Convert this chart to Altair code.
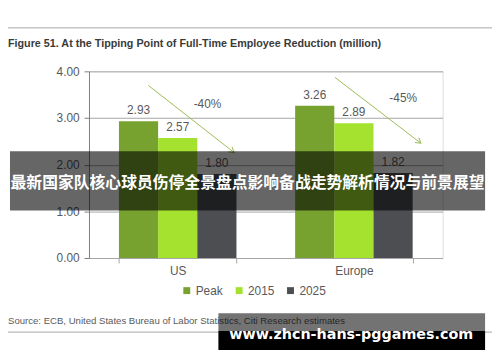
import altair as alt
import pandas as pd

# ---------------- data ----------------
regions = ["US", "Europe"]
series = ["Peak", "2015", "2025"]
us_values = [2.93, 2.57, 1.80]
europe_values = [3.26, 2.89, 1.82]
changes = ["-40%", "-45%"]
series_colors = ["#78a22f", "#a4e22f", "#4d4e52"]
y_ticks = [0, 1, 2, 3, 4]

title_text = "Figure 51. At the Tipping Point of Full-Time Employee Reduction (million)"
source_text = "Source: ECB, United States Bureau of Labor Statistics, Citi Research estimates"
banner_text = "最新国家队核心球员伤停全景盘点影响备战走势解析情况与前景展望"
watermark_text = "www.zhcn-hans-pggames.com"

# annotation arrows: x in category units (0..2 across the plot), y in millions
arrow_x_start = [0.335, 1.391]
arrow_x_end = [0.821, 1.877]
arrow_y_start = [3.70, 3.87]
arrow_y_end = [2.26, 2.46]
change_x = [0.670, 1.777]
change_y = [3.30, 3.43]

# ---------------- tables ----------------
rows = []
for region, vals in zip(regions, [us_values, europe_values]):
    for s, v in zip(series, vals):
        rows.append({"region": region, "series": s, "value": v})
bars_df = pd.DataFrame(rows)

arrows_df = pd.DataFrame({
    "xs": arrow_x_start, "xe": arrow_x_end,
    "ys": arrow_y_start, "ye": arrow_y_end,
    "label": changes, "lx": change_x, "ly": change_y,
})

FONT = "Liberation Sans"
TXT = "#595959"

yscale = alt.Scale(domain=[0, 4], nice=False, zero=True)
yaxis = alt.Axis(values=y_ticks, format=".2f", labelFontSize=12, labelColor=TXT,
                 labelFont=FONT, tickColor="#808080", tickSize=5, domainColor="#808080",
                 gridColor="#a6a6a6", labelPadding=5, zindex=0)
xband = alt.X(
    "region:N", sort=regions, title=None,
    scale=alt.Scale(paddingInner=0.333, paddingOuter=0.17),
    axis=alt.Axis(labelFontSize=12, labelColor=TXT, labelFont=FONT, labelAngle=0,
                  domainColor="#a6a6a6", tickColor="#a6a6a6", tickSize=5,
                  tickBand="extent", labelPadding=3, zindex=0),
)
xoff = alt.XOffset("series:N", sort=series)
yval = alt.Y("value:Q", scale=yscale, title=None, axis=yaxis)

bars = alt.Chart(bars_df).mark_bar().encode(
    x=xband, xOffset=xoff, y=yval,
    color=alt.Color(
        "series:N", sort=series,
        scale=alt.Scale(domain=series, range=series_colors),
        legend=alt.Legend(orient="none", legendX=93, legendY=216, direction="horizontal",
                          title=None, symbolType="square", symbolSize=49,
                          symbolStrokeWidth=0, labelFontSize=12, labelColor=TXT,
                          labelFont=FONT, labelOffset=3, columnPadding=10, padding=0),
    ),
)
labels = alt.Chart(bars_df).mark_text(dy=-11, fontSize=12, font=FONT, color=TXT).encode(
    x=xband, xOffset=xoff, y=yval, text=alt.Text("value:Q", format=".2f"),
)
main = alt.layer(bars, labels)

xlin = alt.Scale(domain=[0, 2], nice=False, zero=False)
arrow_lines = alt.Chart(arrows_df).mark_rule(color="#9bbb59", strokeWidth=1).encode(
    x=alt.X("xs:Q", scale=xlin, axis=None), x2="xe:Q",
    y=alt.Y("ys:Q", scale=yscale, title=None, axis=yaxis), y2="ye:Q",
)
arrow_heads = alt.Chart(arrows_df).mark_point(
    shape="M-1,-0.6L0,0L-1,0.6", filled=False, size=110, angle=38,
    color="#9bbb59", strokeWidth=1, opacity=1,
).encode(
    x=alt.X("xe:Q", scale=xlin, axis=None),
    y=alt.Y("ye:Q", scale=yscale, title=None, axis=yaxis),
)
change_labels = alt.Chart(arrows_df).mark_text(fontSize=12, font=FONT, color=TXT).encode(
    x=alt.X("lx:Q", scale=xlin, axis=None),
    y=alt.Y("ly:Q", scale=yscale, title=None, axis=yaxis),
    text="label:N",
)
arrows = alt.layer(arrow_lines, arrow_heads, change_labels)

one = pd.DataFrame({"t": [0]})

def text_layer(txt, x, y, **kw):
    return alt.Chart(pd.DataFrame({"t": [txt]})).mark_text(**kw).encode(
        x=alt.value(x), y=alt.value(y), text="t:N")

banner_rect = alt.Chart(one).mark_rect(color="black", opacity=0.6).encode(
    x=alt.value(-80), x2=alt.value(401), y=alt.value(81), y2=alt.value(141))
banner_txt = text_layer(banner_text, 160.5, 113, font="Noto Sans CJK SC", fontWeight="bold",
                        fontSize=16, color="white", align="center", baseline="middle")
title = text_layer(title_text, -82, -28, font=FONT, fontWeight="bold", fontSize=10.9,
                   color="#3a3a3a", align="left", baseline="middle")
top_line = alt.Chart(one).mark_rule(color="#a6a6a6", strokeWidth=1).encode(
    x=alt.value(-82), x2=alt.value(408), y=alt.value(-44))
bottom_line = alt.Chart(one).mark_rule(color="#a6a6a6", strokeWidth=1).encode(
    x=alt.value(-82), x2=alt.value(408), y=alt.value(264))
source = text_layer(source_text, -82, 253, font=FONT, fontSize=9.7, color=TXT,
                    align="left", baseline="middle")
wm_gray = alt.Chart(one).mark_rect(color="black", opacity=0.55).encode(
    x=alt.value(131), x2=alt.value(401), y=alt.value(245), y2=alt.value(263))
wm_black = alt.Chart(one).mark_rect(color="black", opacity=1).encode(
    x=alt.value(131), x2=alt.value(401), y=alt.value(263), y2=alt.value(283))
wm_text = text_layer(watermark_text, 265.5, 267, font="DejaVu Sans", fontWeight="bold",
                     fontSize=14.5, color="white", align="center", baseline="middle")

chart = alt.layer(
    main, arrows, banner_rect, banner_txt, title, top_line, bottom_line, source,
    wm_gray, wm_black, wm_text,
).resolve_scale(x="independent").properties(
    width=358, height=189,
    autosize=alt.AutoSizeParams(type="none"),
    padding={"left": 82, "top": 62, "right": 50, "bottom": 91},
).configure_view(stroke="#a6a6a6", strokeWidth=1).configure(background="white")

chart.save("out.html", embed_options={"renderer": "svg", "actions": False})
